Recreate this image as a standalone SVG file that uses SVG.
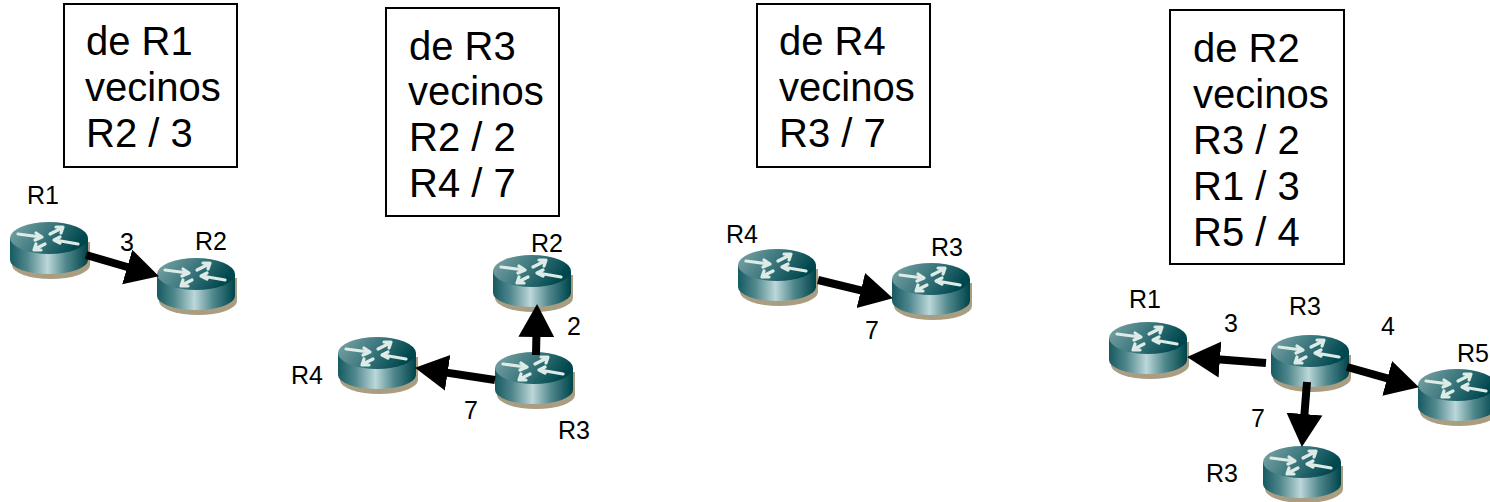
<svg xmlns="http://www.w3.org/2000/svg" width="1490" height="502" viewBox="0 0 1490 502">
<style>
text{font-family:"Liberation Sans",Arial,sans-serif;fill:#000}
.big{font-size:40px}
.sm{font-size:25px}
.box{fill:#fff;stroke:#000;stroke-width:2}
.link{stroke:#000;stroke-width:8;fill:none;marker-end:url(#head)}
.gl{fill:none;stroke:#dcebe6;stroke-width:3.2;stroke-linecap:round;stroke-linejoin:round}
</style>
<defs>
<marker id="head" markerUnits="userSpaceOnUse" markerWidth="36" markerHeight="40" refX="16" refY="20" orient="auto"><path d="M0 2L33 20L0 38Z" fill="#000"/></marker>
<linearGradient id="body" x1="0" x2="1" y1="0" y2="0"><stop offset="0" stop-color="#175a62"/><stop offset=".22" stop-color="#4f878c"/><stop offset=".48" stop-color="#bcd7d9"/><stop offset=".72" stop-color="#4f878c"/><stop offset="1" stop-color="#00444b"/></linearGradient>
<linearGradient id="top" x1="0" x2="1" y1="0" y2=".3"><stop offset="0" stop-color="#7fa6a8"/><stop offset=".5" stop-color="#3f7a80"/><stop offset="1" stop-color="#00474e"/></linearGradient>
<filter id="soft" x="-5%" y="-5%" width="110%" height="110%"><feGaussianBlur stdDeviation=".5"/></filter>
<g id="router" filter="url(#soft)">
<path d="M2 20V43A39 14 0 0 0 80 43V20Z" fill="#a99d82"/>
<path d="M0 16V38A39 14 0 0 0 78 38V16Z" fill="url(#body)"/>
<ellipse cx="39" cy="16" rx="39" ry="16" fill="url(#top)"/>
<path class="gl" d="M8 12L31 15M26 11L32 15L25 18M68 22L45 18M50 15L44 18L50 21M40 12L52 6M46 5L53 5L51 11M35 22L25 27M26 22L24 28L31 28"/>
</g>
</defs>
<g id="box-r1"><rect class="box" x="64" y="4" width="173" height="163"/><text class="big" x="86" y="55">de R1</text><text class="big" x="85" y="101">vecinos</text><text class="big" x="86" y="147">R2 / 3</text></g>
<g id="box-r3"><rect class="box" x="386" y="8" width="173" height="208"/><text class="big" x="409" y="60">de R3</text><text class="big" x="408" y="105">vecinos</text><text class="big" x="409" y="151">R2 / 2</text><text class="big" x="409" y="197">R4 / 7</text></g>
<g id="box-r4"><rect class="box" x="757" y="4" width="173" height="163"/><text class="big" x="779" y="55">de R4</text><text class="big" x="779" y="101">vecinos</text><text class="big" x="779" y="147">R3 / 7</text></g>
<g id="box-r2"><rect class="box" x="1170" y="10" width="174" height="254"/><text class="big" x="1193" y="62">de R2</text><text class="big" x="1193" y="108">vecinos</text><text class="big" x="1193" y="154">R3 / 2</text><text class="big" x="1193" y="200">R1 / 3</text><text class="big" x="1193" y="246">R5 / 4</text></g>
<g id="a-r1"><use href="#router" x="10" y="222"/><text class="sm" x="27" y="204">R1</text></g>
<g id="a-r2"><use href="#router" x="157" y="258"/><text class="sm" x="195" y="250">R2</text><text class="sm" x="120" y="251">3</text></g>
<g id="b-r2"><use href="#router" x="493" y="255"/><text class="sm" x="531" y="252">R2</text><text class="sm" x="567" y="335">2</text></g>
<g id="b-r4"><use href="#router" x="338" y="337"/><text class="sm" x="291" y="384">R4</text><text class="sm" x="464" y="419">7</text></g>
<g id="b-r3"><use href="#router" x="495" y="352"/><text class="sm" x="558" y="439">R3</text></g>
<g id="c-r4"><use href="#router" x="738" y="249"/><text class="sm" x="726" y="243">R4</text></g>
<g id="c-r3"><use href="#router" x="892" y="263"/><text class="sm" x="931" y="256">R3</text><text class="sm" x="865" y="339">7</text></g>
<g id="d-r1"><use href="#router" x="1109" y="322"/><text class="sm" x="1129" y="308">R1</text><text class="sm" x="1224" y="332">3</text></g>
<g id="d-r3"><use href="#router" x="1271" y="335"/><text class="sm" x="1289" y="315">R3</text></g>
<g id="d-r5"><use href="#router" x="1418" y="369"/><text class="sm" x="1457" y="362">R5</text><text class="sm" x="1381" y="335">4</text></g>
<g id="d-r3b"><use href="#router" x="1263" y="446"/><text class="sm" x="1206" y="482">R3</text><text class="sm" x="1251" y="427">7</text></g>
<g id="connectors">
<line class="link" x1="86" y1="255" x2="142.6" y2="271.5"/>
<line class="link" x1="536" y1="355" x2="536.7" y2="321"/>
<line class="link" x1="495" y1="380" x2="431.8" y2="370.4"/>
<line class="link" x1="818" y1="280" x2="876.4" y2="294.2"/>
<line class="link" x1="1266" y1="363" x2="1204" y2="358.2"/>
<line class="link" x1="1347" y1="367" x2="1402.6" y2="382.7"/>
<line class="link" x1="1307" y1="382" x2="1303.2" y2="430"/>
</g>
</svg>
